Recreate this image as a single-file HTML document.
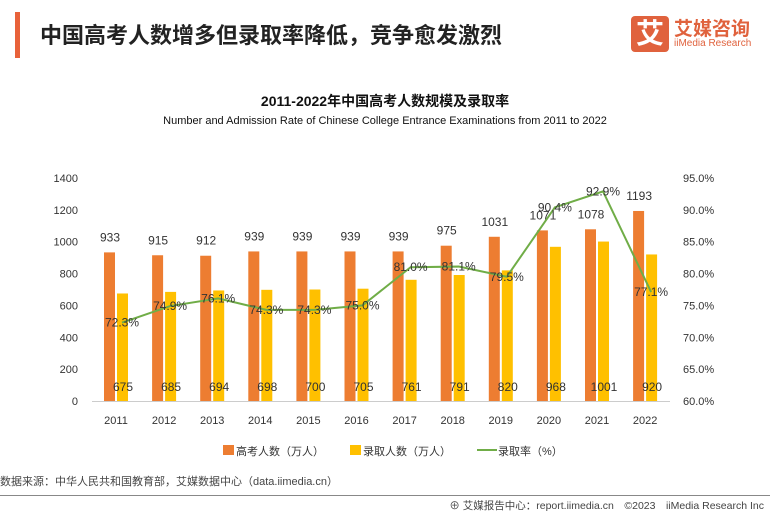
<!DOCTYPE html>
<html><head><meta charset="utf-8"><style>
body{margin:0;width:770px;height:514px;background:#fff;overflow:hidden;position:relative;font-family:"Liberation Sans","Noto Sans CJK SC",sans-serif}
.a{position:absolute}
</style></head><body>
<div class="a" style="left:15px;top:12px;width:5px;height:46px;background:#e8623a"></div>
<div class="a" style="left:40px;top:18px;font-size:22px;font-weight:bold;color:#222;white-space:nowrap">中国高考人数增多但录取率降低，竞争愈发激烈</div>
<div class="a" style="left:631px;top:16px;width:38px;height:36px;background:#e0623d;border-radius:4px;color:#fff;font-size:28px;font-weight:bold;text-align:center;line-height:36px">艾</div>
<div class="a" style="left:674px;top:14px;font-size:19px;font-weight:bold;color:#e0623d">艾媒咨询</div>
<div class="a" style="left:674px;top:38px;font-size:10px;color:#e0623d;white-space:nowrap">iiMedia Research</div>
<div class="a" style="left:0;width:770px;top:91px;text-align:center;font-size:14px;font-weight:bold;color:#111">2011-2022年中国高考人数规模及录取率</div>
<div class="a" style="left:0;width:770px;top:115px;text-align:center;font-size:11px;color:#111">Number and Admission Rate of Chinese College Entrance Examinations from 2011 to 2022</div>
<svg class="a" style="left:0;top:0" width="770" height="514" id="c"></svg>
<div class="a" style="left:0;top:473px;font-size:11px;color:#444;white-space:nowrap">数据来源：中华人民共和国教育部，艾媒数据中心（data.iimedia.cn）</div>
<div class="a" style="left:0;top:495px;width:770px;height:1px;background:#888"></div>
<div class="a" style="right:6px;top:498px;font-size:10.5px;color:#444;white-space:nowrap">⊕ 艾媒报告中心：report.iimedia.cn　©2023　iiMedia Research Inc</div>
<script>
const years=["2011","2012","2013","2014","2015","2016","2017","2018","2019","2020","2021","2022"];
const examinees=[933,915,912,939,939,939,939,975,1031,1071,1078,1193];
const admitted=[675,685,694,698,700,705,761,791,820,968,1001,920];
const rates=[72.3,74.9,76.1,74.3,74.3,75.0,81.0,81.1,79.5,90.4,92.9,77.1];
const leftTicks=[0,200,400,600,800,1000,1200,1400];
const rightTicks=[60,65,70,75,80,85,90,95];
const svg=document.getElementById('c');const NS='http://www.w3.org/2000/svg';
const y0=401,yTop=178;
const yL=v=>y0-(v/1400)*(y0-yTop);
const yR=v=>y0-((v-60)/35)*(y0-yTop);
const xC=i=>116+i*48.1;
function mk(t,a,txt){const e=document.createElementNS(NS,t);for(const k in a)e.setAttribute(k,a[k]);if(txt!==undefined)e.textContent=txt;svg.appendChild(e);return e;}
const F='Liberation Sans, Noto Sans CJK SC, sans-serif';
leftTicks.forEach(v=>{const e=mk('text',{x:78,y:yL(v)+4,'text-anchor':'end','font-size':11,fill:'#333','font-family':F},v);

});
rightTicks.forEach(v=>{const e=mk('text',{x:683,y:yR(v)+4,'font-size':11,fill:'#333','font-family':F},v.toFixed(1)+'%');

});
const ax=mk('line',{x1:92,x2:670,y1:y0+0.5,y2:y0+0.5,stroke:'#ccc'});


years.forEach((y,i)=>{const x=xC(i);
const b1=mk('rect',{x:x-12,y:yL(examinees[i]),width:11,height:y0-yL(examinees[i]),fill:'#ed7d31'});


const b2=mk('rect',{x:x+1,y:yL(admitted[i]),width:11,height:y0-yL(admitted[i]),fill:'#ffc000'});


const t=mk('text',{x:x,y:424,'text-anchor':'middle','font-size':11,fill:'#333','font-family':F},y);


const l1=mk('text',{x:x-6,y:yL(examinees[i])-11,'text-anchor':'middle','font-size':12,fill:'#333','font-family':F},examinees[i]);


const l2=mk('text',{x:x+7,y:391,'text-anchor':'middle','font-size':12,fill:'#333','font-family':F},admitted[i]);


});
const pl=mk('polyline',{points:rates.map((r,i)=>(xC(i)+6)+','+yR(r)).join(' '),fill:'none',stroke:'#70ad47','stroke-width':2});


rates.forEach((r,i)=>{const e=mk('text',{x:xC(i)+6,y:yR(r)+4,'text-anchor':'middle','font-size':12,fill:'#333','font-family':F},r.toFixed(1)+'%');

});
[['#ed7d31','高考人数（万人）',223],['#ffc000','录取人数（万人）',350]].forEach(([c,t,x],k)=>{
const r=mk('rect',{x:x,y:445,width:11,height:10,fill:c});


const tx=mk('text',{x:x+13,y:455,'font-size':11,fill:'#333','font-family':F},t);

});
const ll=mk('line',{x1:477,x2:497,y1:450,y2:450,stroke:'#70ad47','stroke-width':2});


const lt=mk('text',{x:498,y:455,'font-size':11,fill:'#333','font-family':F},'录取率（%）');


</script>
</body></html>
